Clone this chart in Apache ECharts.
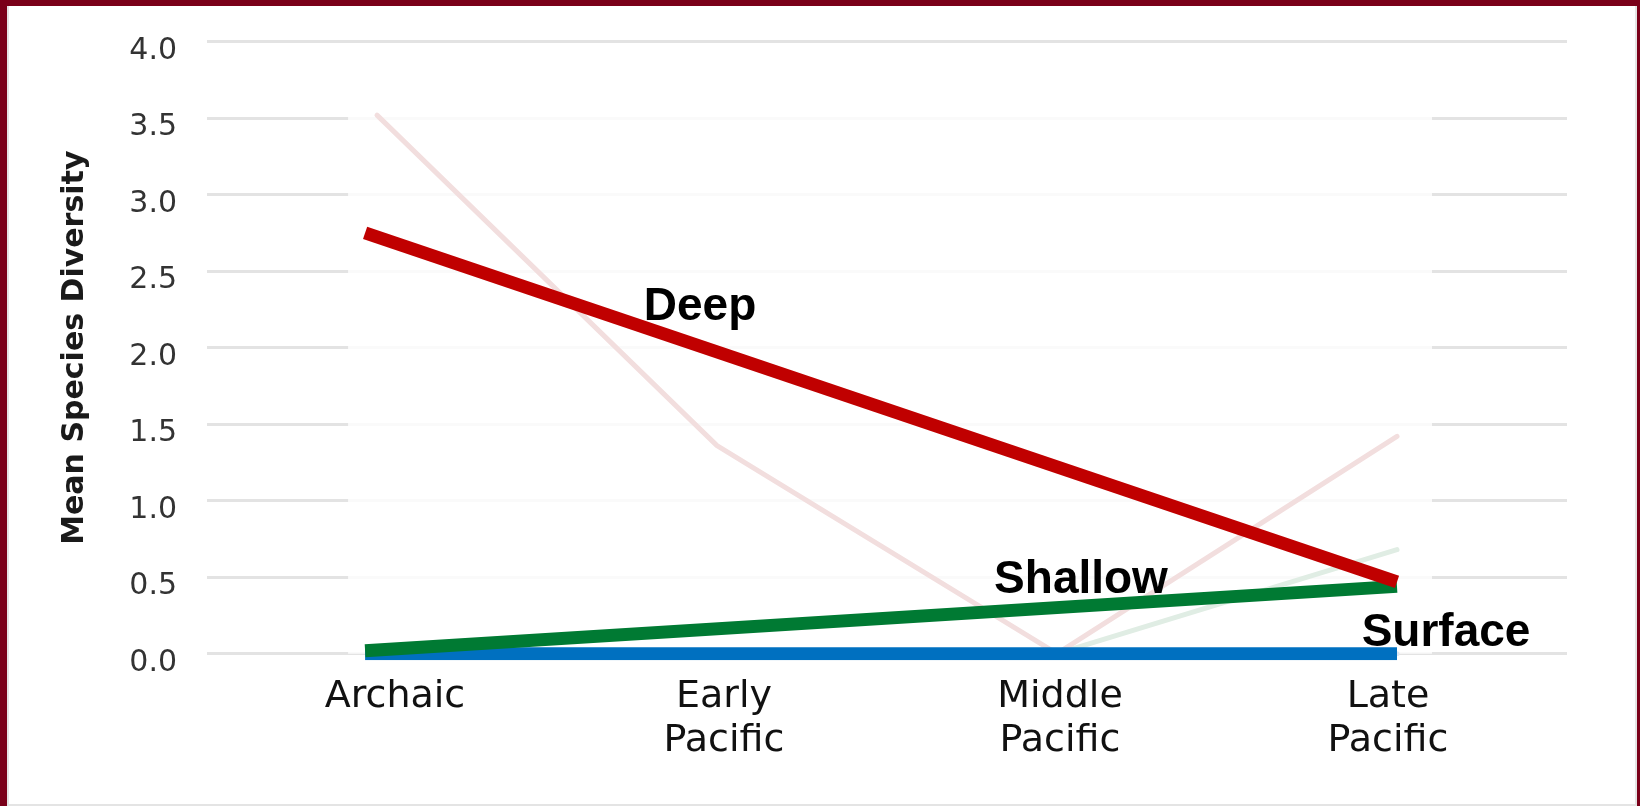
<!DOCTYPE html>
<html>
<head>
<meta charset="utf-8">
<script src="https://cdn.jsdelivr.net/npm/echarts@6/dist/echarts.min.js"></script>
<style>
  html, body { margin: 0; padding: 0; background: #ffffff; }
  #chart { position: absolute; left: 0; top: 0; width: 1640px; height: 806px; }
  .frame { position: absolute; background: #7a0019; pointer-events: none; }
  .inner { position: absolute; background: #e4e4e4; pointer-events: none; }
</style>
</head>
<body>
<div id="chart"></div>
<div class="frame" style="left:0;top:0;width:1640px;height:6px;"></div>
<div class="frame" style="left:0;top:0;width:7px;height:806px;"></div>
<div class="frame" style="left:1637px;top:0;width:3px;height:806px;"></div>
<div class="inner" style="left:7px;top:6px;width:2px;height:800px;"></div>
<div class="inner" style="left:1635px;top:6px;width:2px;height:800px;"></div>
<div class="inner" style="left:7px;top:804px;width:1630px;height:2px;"></div>
<script>
// ---- data ----
const categories = ['Archaic', 'Early\nPacific', 'Middle\nPacific', 'Late\nPacific'];
const yTicks = [0, 0.5, 1.0, 1.5, 2.0, 2.5, 3.0, 3.5, 4.0];

// faded original series (background), one value per category
const deepRaw    = [3.52, 1.36, 0.0, 1.42];
const shallowRaw = [0.0, 0.0, 0.0, 0.68];
const surfaceRaw = [0.0, 0.0, 0.0, 0.0];

// bold trend lines: start (Archaic) and end (Late Pacific) values only
const trendX       = [-0.035, 3];      // category index position of the two ends
const deepTrend    = [2.75, 0.47];
const shallowTrend = [0.02, 0.44];
const surfaceTrend = [0.0, 0.0];

const seriesNames = ['Deep', 'Shallow', 'Surface'];
const yAxisTitle = 'Mean Species Diversity';

// ---- chart ----
const chart = echarts.init(document.getElementById('chart'), null, { renderer: 'canvas' });

function trend(name, values, color) {
  return {
    name: name, type: 'line', xAxisIndex: 1,
    data: values.map((v, i) => [trendX[i], v]),
    symbol: 'none', z: 5, silent: true,
    lineStyle: { color: color, width: 13, cap: 'butt', join: 'miter' }
  };
}
function faded(name, data, color) {
  return {
    name: name + ' (raw)', type: 'line', data: data,
    symbol: 'none', z: 3, silent: true,
    lineStyle: { color: color, width: 5, cap: 'round' }
  };
}

const labelKeys = ['c0', 'c1', 'c2', 'c3'];
const catFont = { fontFamily: 'DejaVu Sans', fontSize: 38, color: '#111111', lineHeight: 44 };

const option = {
  animation: false,
  backgroundColor: 'transparent',
  grid: { left: 207, right: 73, top: 41.7, bottom: 152.3, containLabel: false },
  xAxis: [{
    type: 'category',
    data: categories,
    boundaryGap: true,
    axisLine: { show: false },
    axisTick: { show: false },
    axisLabel: Object.assign({}, catFont, {
      margin: 21, interval: 0,
      formatter: (v, i) => v.split('\n').map(s => '{' + labelKeys[i] + '|' + s + '}').join('\n'),
      rich: {
        c0: Object.assign({}, catFont, { padding: [0, 0, 0, 36] }),
        c1: Object.assign({}, catFont, { padding: [0, 0, 0, 14] }),
        c2: Object.assign({}, catFont, { padding: [0, 0, 0, 6] }),
        c3: Object.assign({}, catFont, { padding: [0, 18, 0, 0] })
      }
    })
  }, {
    type: 'value', min: -0.5, max: 3.5, show: false
  }],
  yAxis: {
    type: 'value', min: 0, max: 4, interval: 0.5,
    name: yAxisTitle,
    nameLocation: 'middle', nameRotate: 90, nameGap: 117,
    nameTextStyle: { fontFamily: 'DejaVu Sans', fontWeight: 'bold', fontSize: 30, color: '#1a1a1a' },
    axisLine: { show: false }, axisTick: { show: false },
    axisLabel: {
      fontFamily: 'DejaVu Sans', fontSize: 30, color: '#333333', margin: 30,
      verticalAlign: 'top', lineHeight: 19,
      formatter: v => (yTicks.indexOf(v) >= 0 ? v.toFixed(1) : '')
    },
    splitLine: { lineStyle: { color: '#e3e3e3', width: 3 } }
  },
  series: [
    {
      name: 'fade', type: 'line', xAxisIndex: 1, data: [], z: 2, silent: true,
      markArea: {
        silent: true,
        itemStyle: { color: 'rgba(255,255,255,0.82)' },
        data: [[{ coord: [-0.085, 3.8] }, { coord: [3.103, -0.1] }]]
      }
    },
    faded(seriesNames[2], surfaceRaw, '#dde8f3'),
    faded(seriesNames[1], shallowRaw, '#e0ede4'),
    faded(seriesNames[0], deepRaw, '#f2dede'),
    trend(seriesNames[2], surfaceTrend, '#0070c0'),
    trend(seriesNames[1], shallowTrend, '#007a33'),
    trend(seriesNames[0], deepTrend, '#c00000')
  ],
  graphic: [
    { type: 'text', x: 700, y: 307, z: 10, silent: true,
      style: { text: seriesNames[0], font: 'bold 46px "Liberation Sans", Arial, sans-serif', fill: '#000', textAlign: 'center', textVerticalAlign: 'middle' } },
    { type: 'text', x: 1081, y: 580, z: 10, silent: true,
      style: { text: seriesNames[1], font: 'bold 46px "Liberation Sans", Arial, sans-serif', fill: '#000', textAlign: 'center', textVerticalAlign: 'middle' } },
    { type: 'text', x: 1446, y: 633, z: 10, silent: true,
      style: { text: seriesNames[2], font: 'bold 46px "Liberation Sans", Arial, sans-serif', fill: '#000', textAlign: 'center', textVerticalAlign: 'middle' } }
  ]
};
chart.setOption(option);
</script>
</body>
</html>
